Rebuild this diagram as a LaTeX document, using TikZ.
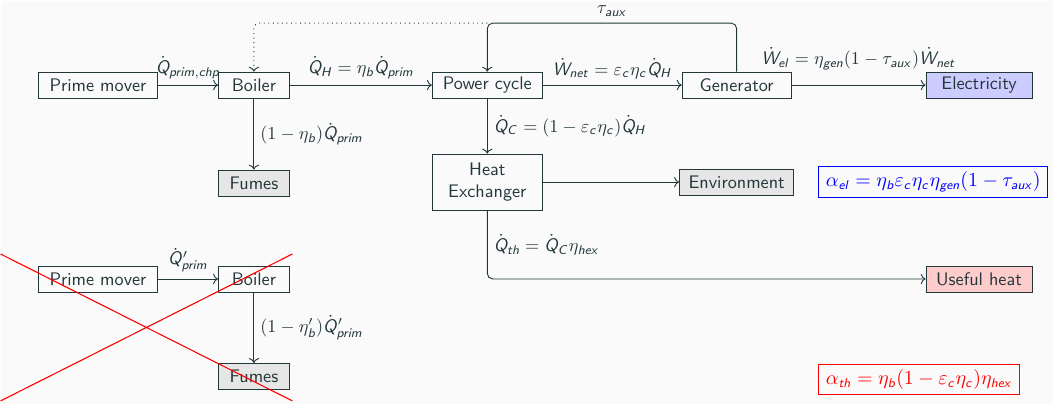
\documentclass[tikz,border=0pt]{standalone}
\usepackage{amsmath, amssymb}
\usetikzlibrary{arrows.meta}
\definecolor{txt}{RGB}{35,55,59}
\definecolor{bgcol}{RGB}{250,250,250}
\definecolor{elcol}{RGB}{204,204,255}
\definecolor{heatcol}{RGB}{255,204,204}
\definecolor{lossfill}{RGB}{230,230,230}
\DeclareSymbolFont{sfletters}{OT1}{cmss}{m}{sl}
\makeatletter
\newcommand\sfletter[1]{\DeclareMathSymbol{#1}{\mathalpha}{sfletters}{`#1}}
\@tfor\sfl:=abcdefghijklmnopqrstuvwxyzABCDEFGHIJKLMNOPQRSTUVWXYZ\do{\expandafter\sfletter\expandafter{\sfl}}
\makeatother

\begin{document}
\begin{tikzpicture}
    [x=0.55pt, y=-0.55pt, font=\sffamily, color=txt, line width=0.5pt,
    box/.style={draw, fill=bgcol, inner xsep=5pt, inner ysep=2pt, minimum height=14.3pt},
    loss/.style={box, fill=lossfill},
    eq/.style={draw, anchor=west, inner xsep=4pt, inner ysep=3pt, font=\fontsize{10.5}{12}\selectfont},
    flow/.style={->}]
        \fill[bgcol] (0,0) rectangle (1053,403);
        \node[box, minimum width=65.5pt] (PM) at (97.5,84) {Prime mover};
        \node[box, minimum width=39pt] (B) at (253.5,84) {Boiler};
        \node[box, minimum width=60.5pt] (PC) at (487,84) {Power cycle};
        \node[box, minimum width=60pt] (G) at (736.5,84) {Generator};
        \node[box, fill=elcol, minimum width=58.3pt] (El) at (979,84) {Electricity};
        \node[loss, minimum width=39pt] (F) at (253.5,182) {Fumes};
        \node[box, align=center, minimum width=60.5pt, minimum height=30.8pt] (HX) at (487,181) {Heat\\Exchanger};
        \node[loss, minimum width=60pt] (Env) at (736.5,181) {Environment};
        \node[box, fill=heatcol, minimum width=58.3pt] (UH) at (979,278) {Useful heat};
        \node[eq, draw=blue, text=blue] (ael) at (818,181) {$\alpha_{el} = \eta_b\varepsilon_c\eta_c\eta_{gen}(1-\tau_{aux})$};
        \node[eq, draw=red, text=red] (ath) at (818,378.5) {$\alpha_{th} = \eta_b(1-\varepsilon_c\eta_c)\eta_{hex}$};
        \coordinate (auxtop) at (487,22);

        \draw[flow] (PM) to node[above] {$\dot{Q}_{prim,chp}$} (B);
        \draw[flow] (B) to node[above] {$\dot{Q}_H = \eta_b\dot{Q}_{prim}$} (PC);
        \draw[flow] (B) to node[right] {$(1-\eta_b)\dot{Q}_{prim}$} (F);
        \draw[flow] (PC) to node[above] {$\dot{W}_{net} = \varepsilon_c\eta_c\dot{Q}_H$} (G);
        \draw[flow] (G) to node[above, yshift=5pt] {$\dot{W}_{el} = \eta_{gen}(1-\tau_{aux})\dot{W}_{net}$} (El);
        \draw[flow] (PC) to node[right] {$\dot{Q}_C = (1-\varepsilon_c\eta_c)\dot{Q}_H$} (HX);
        \draw[flow] (HX) to (Env);
        \draw[flow, rounded corners=3pt] (HX.south) |- node[pos=0.25, right] {$\dot{Q}_{th} = \dot{Q}_C\eta_{hex}$} (UH.west);
        \draw[flow, rounded corners=3pt] (G.north) |- node[pos=0.75, above] {$\tau_{aux}$} (auxtop) -- (PC.north);
        \draw[flow, dotted, rounded corners=3pt] (auxtop) -| (B.north);

        \node[box, minimum width=65.5pt] (PM2) at (97.5,278) {Prime mover};
        \node[box, minimum width=39pt] (B2) at (253.5,278) {Boiler};
        \node[loss, minimum width=39pt] (F2) at (253.5,375.5) {Fumes};
        \draw[flow] (PM2) to node[above] {$\dot{Q}'_{prim}$} (B2);
        \draw[flow] (B2) to node[right] {$(1-\eta'_b)\dot{Q}'_{prim}$} (F2);
        \draw[red, line width=0.6pt] (0,253) -- (292,400) (0,400) -- (292,253);
\end{tikzpicture}
\end{document}
